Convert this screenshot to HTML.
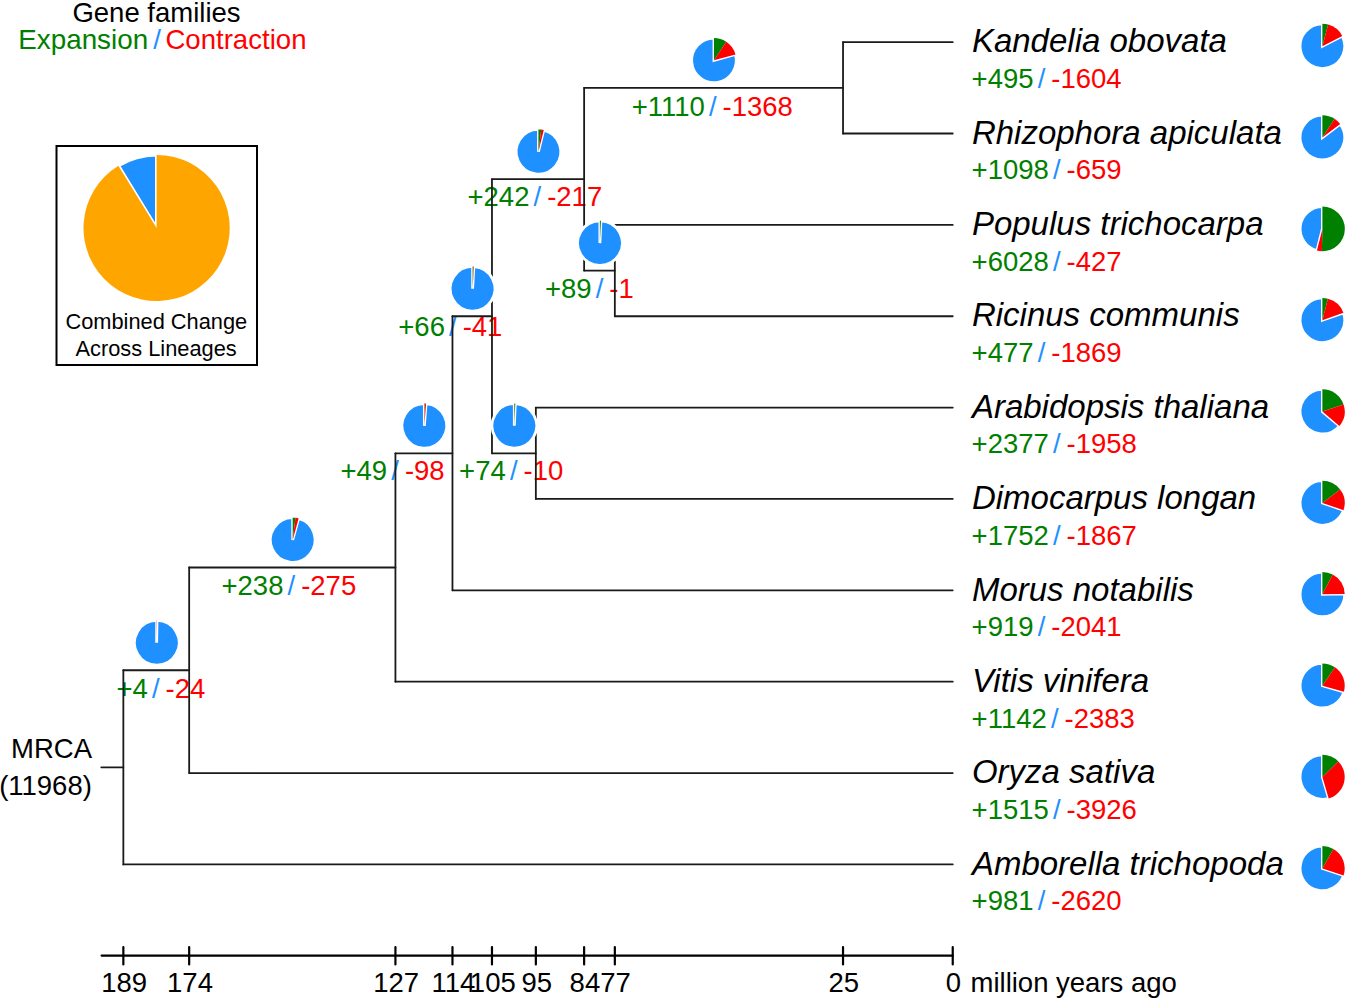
<!DOCTYPE html>
<html><head><meta charset="utf-8"><style>
html,body{margin:0;padding:0;background:#fff;overflow:hidden;}
svg{display:block;font-family:"Liberation Sans",sans-serif;}
</style></head><body>
<svg width="1345" height="999" viewBox="0 0 1345 999">
<text x="631.7" y="115.5" font-size="27.5"><tspan fill="#008000">+1110</tspan><tspan fill="#1e90ff" dx="-3.5"> / </tspan><tspan fill="#ff0000" dx="-1.7">-1368</tspan></text>
<text x="467.5" y="206.4" font-size="27.5"><tspan fill="#008000">+242</tspan><tspan fill="#1e90ff" dx="-3.5"> / </tspan><tspan fill="#ff0000" dx="-1.7">-217</tspan></text>
<text x="544.9" y="297.6" font-size="27.5"><tspan fill="#008000">+89</tspan><tspan fill="#1e90ff" dx="-3.5"> / </tspan><tspan fill="#ff0000" dx="-1.7">-1</tspan></text>
<text x="398.3" y="336.2" font-size="27.5"><tspan fill="#008000">+66</tspan><tspan fill="#1e90ff" dx="-3.5"> / </tspan><tspan fill="#ff0000" dx="-1.7">-41</tspan></text>
<text x="459.1" y="480.0" font-size="27.5"><tspan fill="#008000">+74</tspan><tspan fill="#1e90ff" dx="-3.5"> / </tspan><tspan fill="#ff0000" dx="-1.7">-10</tspan></text>
<text x="340.5" y="480.0" font-size="27.5"><tspan fill="#008000">+49</tspan><tspan fill="#1e90ff" dx="-3.5"> / </tspan><tspan fill="#ff0000" dx="-1.7">-98</tspan></text>
<text x="221.5" y="595.1" font-size="27.5"><tspan fill="#008000">+238</tspan><tspan fill="#1e90ff" dx="-3.5"> / </tspan><tspan fill="#ff0000" dx="-1.7">-275</tspan></text>
<text x="116.5" y="697.9" font-size="27.5"><tspan fill="#008000">+4</tspan><tspan fill="#1e90ff" dx="-3.5"> / </tspan><tspan fill="#ff0000" dx="-1.7">-24</tspan></text>
<text x="971.9" y="52.4" font-size="33" fill="#000" text-anchor="start" font-style="italic">Kandelia obovata</text>
<text x="971.6" y="88.0" font-size="27.5"><tspan fill="#008000">+495</tspan><tspan fill="#1e90ff" dx="-3.5"> / </tspan><tspan fill="#ff0000" dx="-1.7">-1604</tspan></text>
<text x="971.9" y="143.7" font-size="33" fill="#000" text-anchor="start" font-style="italic">Rhizophora apiculata</text>
<text x="971.6" y="179.3" font-size="27.5"><tspan fill="#008000">+1098</tspan><tspan fill="#1e90ff" dx="-3.5"> / </tspan><tspan fill="#ff0000" dx="-1.7">-659</tspan></text>
<text x="971.9" y="235.1" font-size="33" fill="#000" text-anchor="start" font-style="italic">Populus trichocarpa</text>
<text x="971.6" y="270.7" font-size="27.5"><tspan fill="#008000">+6028</tspan><tspan fill="#1e90ff" dx="-3.5"> / </tspan><tspan fill="#ff0000" dx="-1.7">-427</tspan></text>
<text x="971.9" y="326.4" font-size="33" fill="#000" text-anchor="start" font-style="italic">Ricinus communis</text>
<text x="971.6" y="362.0" font-size="27.5"><tspan fill="#008000">+477</tspan><tspan fill="#1e90ff" dx="-3.5"> / </tspan><tspan fill="#ff0000" dx="-1.7">-1869</tspan></text>
<text x="971.9" y="417.8" font-size="33" fill="#000" text-anchor="start" font-style="italic">Arabidopsis thaliana</text>
<text x="971.6" y="453.4" font-size="27.5"><tspan fill="#008000">+2377</tspan><tspan fill="#1e90ff" dx="-3.5"> / </tspan><tspan fill="#ff0000" dx="-1.7">-1958</tspan></text>
<text x="971.9" y="509.2" font-size="33" fill="#000" text-anchor="start" font-style="italic">Dimocarpus longan</text>
<text x="971.6" y="544.8" font-size="27.5"><tspan fill="#008000">+1752</tspan><tspan fill="#1e90ff" dx="-3.5"> / </tspan><tspan fill="#ff0000" dx="-1.7">-1867</tspan></text>
<text x="971.9" y="600.5" font-size="33" fill="#000" text-anchor="start" font-style="italic">Morus notabilis</text>
<text x="971.6" y="636.1" font-size="27.5"><tspan fill="#008000">+919</tspan><tspan fill="#1e90ff" dx="-3.5"> / </tspan><tspan fill="#ff0000" dx="-1.7">-2041</tspan></text>
<text x="971.9" y="691.9" font-size="33" fill="#000" text-anchor="start" font-style="italic">Vitis vinifera</text>
<text x="971.6" y="727.5" font-size="27.5"><tspan fill="#008000">+1142</tspan><tspan fill="#1e90ff" dx="-3.5"> / </tspan><tspan fill="#ff0000" dx="-1.7">-2383</tspan></text>
<text x="971.9" y="783.2" font-size="33" fill="#000" text-anchor="start" font-style="italic">Oryza sativa</text>
<text x="971.6" y="818.8" font-size="27.5"><tspan fill="#008000">+1515</tspan><tspan fill="#1e90ff" dx="-3.5"> / </tspan><tspan fill="#ff0000" dx="-1.7">-3926</tspan></text>
<text x="971.9" y="874.6" font-size="33" fill="#000" text-anchor="start" font-style="italic">Amborella trichopoda</text>
<text x="971.6" y="910.2" font-size="27.5"><tspan fill="#008000">+981</tspan><tspan fill="#1e90ff" dx="-3.5"> / </tspan><tspan fill="#ff0000" dx="-1.7">-2620</tspan></text>
<text x="124.2" y="992.0" font-size="27.5" fill="#000" text-anchor="middle">189</text>
<text x="190.0" y="992.0" font-size="27.5" fill="#000" text-anchor="middle">174</text>
<text x="396.2" y="992.0" font-size="27.5" fill="#000" text-anchor="middle">127</text>
<text x="453.3" y="992.0" font-size="27.5" fill="#000" text-anchor="middle">114</text>
<text x="492.8" y="992.0" font-size="27.5" fill="#000" text-anchor="middle">105</text>
<text x="536.7" y="992.0" font-size="27.5" fill="#000" text-anchor="middle">95</text>
<text x="584.9" y="992.0" font-size="27.5" fill="#000" text-anchor="middle">84</text>
<text x="615.6" y="992.0" font-size="27.5" fill="#000" text-anchor="middle">77</text>
<text x="843.8" y="992.0" font-size="27.5" fill="#000" text-anchor="middle">25</text>
<text x="953.5" y="992.0" font-size="27.5" fill="#000" text-anchor="middle">0</text>
<text x="970.5" y="992.0" font-size="27.5" fill="#000" text-anchor="start">million years ago</text>
<text x="51.5" y="758.1" font-size="27.5" fill="#000" text-anchor="middle">MRCA</text>
<text x="45.5" y="794.8" font-size="27.5" fill="#000" text-anchor="middle">(11968)</text>
<text x="156.5" y="21.5" font-size="27.5" fill="#000" text-anchor="middle">Gene families</text>
<text x="18.3" y="48.8" font-size="27.8" fill="#008000" text-anchor="start">Expansion</text>
<text x="153.2" y="48.8" font-size="27.8" fill="#1e90ff" text-anchor="start">/</text>
<text x="165.4" y="48.8" font-size="27.6" fill="#ff0000" text-anchor="start">Contraction</text>
<text x="156.3" y="328.7" font-size="21.8" fill="#000" text-anchor="middle">Combined Change</text>
<text x="156.1" y="355.6" font-size="21.8" fill="#000" text-anchor="middle">Across Lineages</text>
<g stroke-linecap="round">
<line x1="843.03" y1="42.16" x2="952.74" y2="42.16" stroke="#1a1a1a" stroke-width="1.8"/>
<line x1="843.03" y1="133.52" x2="952.74" y2="133.52" stroke="#1a1a1a" stroke-width="1.8"/>
<line x1="843.03" y1="42.16" x2="843.03" y2="133.52" stroke="#1a1a1a" stroke-width="1.8"/>
<line x1="614.84" y1="224.88" x2="952.74" y2="224.88" stroke="#1a1a1a" stroke-width="1.8"/>
<line x1="614.84" y1="316.24" x2="952.74" y2="316.24" stroke="#1a1a1a" stroke-width="1.8"/>
<line x1="614.84" y1="224.88" x2="614.84" y2="316.24" stroke="#1a1a1a" stroke-width="1.8"/>
<line x1="584.12" y1="87.84" x2="843.03" y2="87.84" stroke="#1a1a1a" stroke-width="1.8"/>
<line x1="584.12" y1="270.56" x2="614.84" y2="270.56" stroke="#1a1a1a" stroke-width="1.8"/>
<line x1="584.12" y1="87.84" x2="584.12" y2="270.56" stroke="#1a1a1a" stroke-width="1.8"/>
<line x1="535.85" y1="407.60" x2="952.74" y2="407.60" stroke="#1a1a1a" stroke-width="1.8"/>
<line x1="535.85" y1="498.96" x2="952.74" y2="498.96" stroke="#1a1a1a" stroke-width="1.8"/>
<line x1="535.85" y1="407.60" x2="535.85" y2="498.96" stroke="#1a1a1a" stroke-width="1.8"/>
<line x1="491.97" y1="179.20" x2="584.12" y2="179.20" stroke="#1a1a1a" stroke-width="1.8"/>
<line x1="491.97" y1="453.28" x2="535.85" y2="453.28" stroke="#1a1a1a" stroke-width="1.8"/>
<line x1="491.97" y1="179.20" x2="491.97" y2="453.28" stroke="#1a1a1a" stroke-width="1.8"/>
<line x1="452.47" y1="316.24" x2="491.97" y2="316.24" stroke="#1a1a1a" stroke-width="1.8"/>
<line x1="452.47" y1="590.32" x2="952.74" y2="590.32" stroke="#1a1a1a" stroke-width="1.8"/>
<line x1="452.47" y1="316.24" x2="452.47" y2="590.32" stroke="#1a1a1a" stroke-width="1.8"/>
<line x1="395.43" y1="453.28" x2="452.47" y2="453.28" stroke="#1a1a1a" stroke-width="1.8"/>
<line x1="395.43" y1="681.68" x2="952.74" y2="681.68" stroke="#1a1a1a" stroke-width="1.8"/>
<line x1="395.43" y1="453.28" x2="395.43" y2="681.68" stroke="#1a1a1a" stroke-width="1.8"/>
<line x1="189.17" y1="567.48" x2="395.43" y2="567.48" stroke="#1a1a1a" stroke-width="1.8"/>
<line x1="189.17" y1="773.04" x2="952.74" y2="773.04" stroke="#1a1a1a" stroke-width="1.8"/>
<line x1="189.17" y1="567.48" x2="189.17" y2="773.04" stroke="#1a1a1a" stroke-width="1.8"/>
<line x1="123.35" y1="670.26" x2="189.17" y2="670.26" stroke="#1a1a1a" stroke-width="1.8"/>
<line x1="123.35" y1="864.40" x2="952.74" y2="864.40" stroke="#1a1a1a" stroke-width="1.8"/>
<line x1="123.35" y1="670.26" x2="123.35" y2="864.40" stroke="#1a1a1a" stroke-width="1.8"/>
<line x1="101.30" y1="767.33" x2="123.35" y2="767.33" stroke="#1a1a1a" stroke-width="1.8"/>
<line x1="101.60" y1="955.60" x2="952.74" y2="955.60" stroke="#000" stroke-width="2.2"/>
<line x1="123.35" y1="947.00" x2="123.35" y2="964.50" stroke="#000" stroke-width="2.2"/>
<line x1="189.17" y1="947.00" x2="189.17" y2="964.50" stroke="#000" stroke-width="2.2"/>
<line x1="395.43" y1="947.00" x2="395.43" y2="964.50" stroke="#000" stroke-width="2.2"/>
<line x1="452.47" y1="947.00" x2="452.47" y2="964.50" stroke="#000" stroke-width="2.2"/>
<line x1="491.97" y1="947.00" x2="491.97" y2="964.50" stroke="#000" stroke-width="2.2"/>
<line x1="535.85" y1="947.00" x2="535.85" y2="964.50" stroke="#000" stroke-width="2.2"/>
<line x1="584.12" y1="947.00" x2="584.12" y2="964.50" stroke="#000" stroke-width="2.2"/>
<line x1="614.84" y1="947.00" x2="614.84" y2="964.50" stroke="#000" stroke-width="2.2"/>
<line x1="843.03" y1="947.00" x2="843.03" y2="964.50" stroke="#000" stroke-width="2.2"/>
<line x1="952.74" y1="947.00" x2="952.74" y2="964.50" stroke="#000" stroke-width="2.2"/>
<rect x="56.5" y="146" width="200.5" height="219" fill="none" stroke="#000" stroke-width="2"/>
</g>
<path d="M713.98,60.34 L735.47,54.40 A22.3,22.3 0 1 1 713.98,38.04 Z" fill="#1e90ff" stroke="#fff" stroke-width="2.8" stroke-linejoin="miter"/><path d="M713.98,60.34 L713.98,38.04 A22.3,22.3 0 0 1 726.25,41.72 Z" fill="#008000"/><path d="M713.98,60.34 L726.25,41.72 A22.3,22.3 0 0 1 735.47,54.40 Z" fill="#ff0000"/>
<path d="M538.45,151.70 L543.77,130.04 A22.3,22.3 0 1 1 538.45,129.40 Z" fill="#1e90ff" stroke="#fff" stroke-width="2.8" stroke-linejoin="miter"/><path d="M538.45,151.70 L538.45,129.40 A22.3,22.3 0 0 1 541.27,129.58 Z" fill="#008000"/><path d="M538.45,151.70 L541.27,129.58 A22.3,22.3 0 0 1 543.77,130.04 Z" fill="#ff0000"/>
<path d="M599.88,243.06 L600.93,220.78 A22.3,22.3 0 1 1 599.88,220.76 Z" fill="#1e90ff" stroke="#fff" stroke-width="2.8" stroke-linejoin="miter"/><path d="M599.88,243.06 L599.88,220.76 A22.3,22.3 0 0 1 600.92,220.78 Z" fill="#008000"/><path d="M599.88,243.06 L600.92,220.78 A22.3,22.3 0 0 1 600.93,220.78 Z" fill="#ff0000"/>
<path d="M472.62,288.74 L473.87,266.48 A22.3,22.3 0 1 1 472.62,266.44 Z" fill="#1e90ff" stroke="#fff" stroke-width="2.8" stroke-linejoin="miter"/><path d="M472.62,288.74 L472.62,266.44 A22.3,22.3 0 0 1 473.39,266.45 Z" fill="#008000"/><path d="M472.62,288.74 L473.39,266.45 A22.3,22.3 0 0 1 473.87,266.48 Z" fill="#ff0000"/>
<path d="M514.31,425.78 L515.29,403.50 A22.3,22.3 0 1 1 514.31,403.48 Z" fill="#1e90ff" stroke="#fff" stroke-width="2.8" stroke-linejoin="miter"/><path d="M514.31,425.78 L514.31,403.48 A22.3,22.3 0 0 1 515.18,403.50 Z" fill="#008000"/><path d="M514.31,425.78 L515.18,403.50 A22.3,22.3 0 0 1 515.29,403.50 Z" fill="#ff0000"/>
<path d="M424.35,425.78 L426.07,403.55 A22.3,22.3 0 1 1 424.35,403.48 Z" fill="#1e90ff" stroke="#fff" stroke-width="2.8" stroke-linejoin="miter"/><path d="M424.35,425.78 L424.35,403.48 A22.3,22.3 0 0 1 424.92,403.49 Z" fill="#008000"/><path d="M424.35,425.78 L424.92,403.49 A22.3,22.3 0 0 1 426.07,403.55 Z" fill="#ff0000"/>
<path d="M292.70,539.98 L298.63,518.48 A22.3,22.3 0 1 1 292.70,517.68 Z" fill="#1e90ff" stroke="#fff" stroke-width="2.8" stroke-linejoin="miter"/><path d="M292.70,539.98 L292.70,517.68 A22.3,22.3 0 0 1 295.48,517.85 Z" fill="#008000"/><path d="M292.70,539.98 L295.48,517.85 A22.3,22.3 0 0 1 298.63,518.48 Z" fill="#ff0000"/>
<path d="M156.66,642.76 L156.99,620.46 A22.3,22.3 0 1 1 156.66,620.46 Z" fill="#1e90ff" stroke="#fff" stroke-width="2.8" stroke-linejoin="miter"/><path d="M156.66,642.76 L156.66,620.46 A22.3,22.3 0 0 1 156.71,620.46 Z" fill="#008000"/><path d="M156.66,642.76 L156.71,620.46 A22.3,22.3 0 0 1 156.99,620.46 Z" fill="#ff0000"/>
<path d="M1322.40,46.16 L1342.29,36.08 A22.3,22.3 0 1 1 1322.40,23.86 Z" fill="#1e90ff" stroke="#fff" stroke-width="2.8" stroke-linejoin="miter"/><path d="M1322.40,46.16 L1322.40,23.86 A22.3,22.3 0 0 1 1328.13,24.61 Z" fill="#008000"/><path d="M1322.40,46.16 L1328.13,24.61 A22.3,22.3 0 0 1 1342.29,36.08 Z" fill="#ff0000"/>
<path d="M1322.40,137.52 L1340.17,124.05 A22.3,22.3 0 1 1 1322.40,115.22 Z" fill="#1e90ff" stroke="#fff" stroke-width="2.8" stroke-linejoin="miter"/><path d="M1322.40,137.52 L1322.40,115.22 A22.3,22.3 0 0 1 1334.55,118.82 Z" fill="#008000"/><path d="M1322.40,137.52 L1334.55,118.82 A22.3,22.3 0 0 1 1340.17,124.05 Z" fill="#ff0000"/>
<path d="M1322.40,228.88 L1316.94,250.50 A22.3,22.3 0 0 1 1322.40,206.58 Z" fill="#1e90ff" stroke="#fff" stroke-width="2.8" stroke-linejoin="miter"/><path d="M1322.40,228.88 L1322.40,206.58 A22.3,22.3 0 1 1 1321.88,251.17 Z" fill="#008000"/><path d="M1322.40,228.88 L1321.88,251.17 A22.3,22.3 0 0 1 1316.94,250.50 Z" fill="#ff0000"/>
<path d="M1322.40,320.24 L1343.43,312.82 A22.3,22.3 0 1 1 1322.40,297.94 Z" fill="#1e90ff" stroke="#fff" stroke-width="2.8" stroke-linejoin="miter"/><path d="M1322.40,320.24 L1322.40,297.94 A22.3,22.3 0 0 1 1327.93,298.64 Z" fill="#008000"/><path d="M1322.40,320.24 L1327.93,298.64 A22.3,22.3 0 0 1 1343.43,312.82 Z" fill="#ff0000"/>
<path d="M1322.40,411.60 L1339.38,426.05 A22.3,22.3 0 1 1 1322.40,389.30 Z" fill="#1e90ff" stroke="#fff" stroke-width="2.8" stroke-linejoin="miter"/><path d="M1322.40,411.60 L1322.40,389.30 A22.3,22.3 0 0 1 1343.55,404.52 Z" fill="#008000"/><path d="M1322.40,411.60 L1343.55,404.52 A22.3,22.3 0 0 1 1339.38,426.05 Z" fill="#ff0000"/>
<path d="M1322.40,502.96 L1343.50,510.17 A22.3,22.3 0 1 1 1322.40,480.66 Z" fill="#1e90ff" stroke="#fff" stroke-width="2.8" stroke-linejoin="miter"/><path d="M1322.40,502.96 L1322.40,480.66 A22.3,22.3 0 0 1 1340.14,489.45 Z" fill="#008000"/><path d="M1322.40,502.96 L1340.14,489.45 A22.3,22.3 0 0 1 1343.50,510.17 Z" fill="#ff0000"/>
<path d="M1322.40,594.32 L1344.70,593.95 A22.3,22.3 0 1 1 1322.40,572.02 Z" fill="#1e90ff" stroke="#fff" stroke-width="2.8" stroke-linejoin="miter"/><path d="M1322.40,594.32 L1322.40,572.02 A22.3,22.3 0 0 1 1332.75,574.57 Z" fill="#008000"/><path d="M1322.40,594.32 L1332.75,574.57 A22.3,22.3 0 0 1 1344.70,593.95 Z" fill="#ff0000"/>
<path d="M1322.40,685.68 L1343.83,691.84 A22.3,22.3 0 1 1 1322.40,663.38 Z" fill="#1e90ff" stroke="#fff" stroke-width="2.8" stroke-linejoin="miter"/><path d="M1322.40,685.68 L1322.40,663.38 A22.3,22.3 0 0 1 1334.98,667.27 Z" fill="#008000"/><path d="M1322.40,685.68 L1334.98,667.27 A22.3,22.3 0 0 1 1343.83,691.84 Z" fill="#ff0000"/>
<path d="M1322.40,777.04 L1328.67,798.44 A22.3,22.3 0 1 1 1322.40,754.74 Z" fill="#1e90ff" stroke="#fff" stroke-width="2.8" stroke-linejoin="miter"/><path d="M1322.40,777.04 L1322.40,754.74 A22.3,22.3 0 0 1 1338.32,761.43 Z" fill="#008000"/><path d="M1322.40,777.04 L1338.32,761.43 A22.3,22.3 0 0 1 1328.67,798.44 Z" fill="#ff0000"/>
<path d="M1322.40,868.40 L1343.57,875.41 A22.3,22.3 0 1 1 1322.40,846.10 Z" fill="#1e90ff" stroke="#fff" stroke-width="2.8" stroke-linejoin="miter"/><path d="M1322.40,868.40 L1322.40,846.10 A22.3,22.3 0 0 1 1333.38,848.99 Z" fill="#008000"/><path d="M1322.40,868.40 L1333.38,848.99 A22.3,22.3 0 0 1 1343.57,875.41 Z" fill="#ff0000"/>
<path d="M156.60,228.00 L118.41,165.67 A73.1,73.1 0 0 1 156.60,154.90 Z" fill="#1e90ff" stroke="#fff" stroke-width="3.2" stroke-linejoin="miter"/><path d="M156.60,228.00 L156.60,154.90 A73.1,73.1 0 1 1 118.41,165.67 Z" fill="#ffa500"/>
</svg></body></html>
